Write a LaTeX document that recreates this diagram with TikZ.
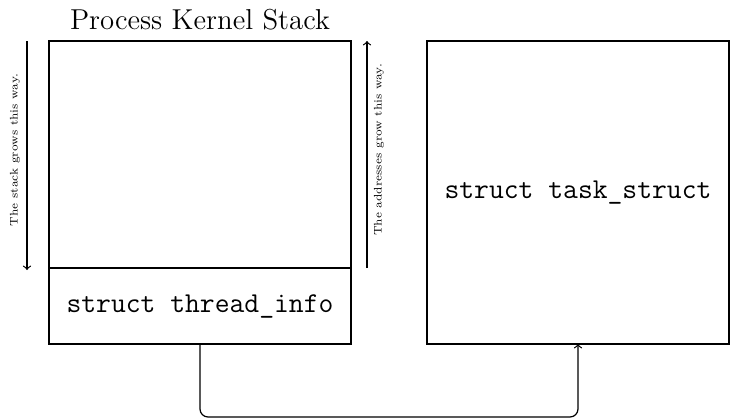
\documentclass[tikz,border=0pt]{standalone}
\usetikzlibrary{positioning}

\begin{document}
\begin{tikzpicture}[x=0.5pt, y=-0.5pt, semithick]
        % pixel-like coordinates, y grows downwards
        \tikzstyle{box}=[draw, rectangle, minimum width=151pt, inner sep=0pt, outer sep=0pt]
        \tikzstyle{note}=[rotate=90, font=\fontsize{5.5pt}{6.5pt}\selectfont]

        \useasboundingbox (0,0) rectangle (730,419);

        \node[box, minimum height=113.5pt] (stack) at (200,154.5) {};
        \node[box, minimum height=38pt, below=0pt of stack] (thread) {\Large\ttfamily struct thread\_info};
        \node[box, minimum height=151.5pt] (task) at (578,192.5) {\Large\ttfamily struct task\_struct};

        \node[above=2pt of stack] (title) {\Large Process Kernel Stack};

        \coordinate (stackTop) at (27,41);
        \coordinate (stackBot) at (27,270);
        \coordinate (addrBot) at (367,268);
        \coordinate (addrTop) at (367,41);

        \draw[->] (stackTop) -- (stackBot);
        \draw[->] (addrBot) -- (addrTop);

        \node[note] (stackNote) at (15,150) {The stack grows this way.};
        \node[note] (addrNote) at (379,150) {The addresses grow this way.};

        \draw[->, rounded corners=4pt] (thread.south) -- ++(0,73) -| (task.south);
      \end{tikzpicture}
\end{document}
